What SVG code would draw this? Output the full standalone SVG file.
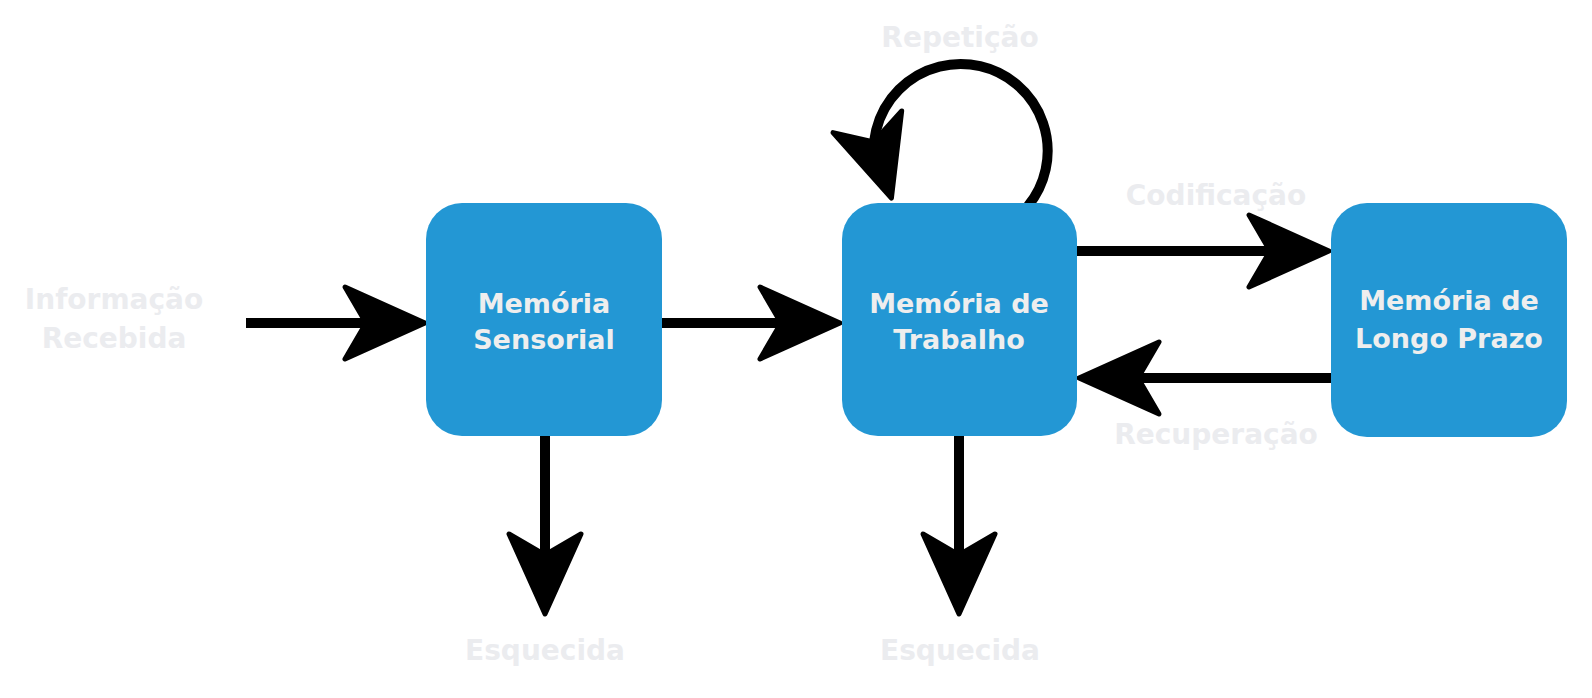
<svg xmlns="http://www.w3.org/2000/svg" width="1592" height="698" viewBox="0 0 1592 698">
<style>
.box{fill:#2397d4}
.nt{font-family:"DejaVu Sans",Lato,sans-serif;font-weight:700;font-size:27px;fill:#eeeeee;text-anchor:middle}
.lb{font-family:"DejaVu Sans",Lato,sans-serif;font-weight:700;font-size:28px;fill:#ebecef;text-anchor:middle}
.ln{stroke:#000;stroke-width:10;fill:none}
.hd{fill:#000;stroke:#000;stroke-width:5;stroke-linejoin:round}
</style>
<defs>
<path id="ah" d="M-2,0 L-82,-36 L-61,0 L-82,36 Z"/>
</defs>
<rect width="1592" height="698" fill="#ffffff"/>
<g id="connectors">
<line class="ln" x1="246" y1="323" x2="380" y2="323"/>
<use href="#ah" class="hd" transform="translate(427,323)"/>
<line class="ln" x1="660" y1="323" x2="795" y2="323"/>
<use href="#ah" class="hd" transform="translate(842,323)"/>
<line class="ln" x1="1075" y1="251" x2="1284" y2="251"/>
<use href="#ah" class="hd" transform="translate(1331,251)"/>
<line class="ln" x1="1333" y1="378" x2="1125" y2="378"/>
<use href="#ah" class="hd" transform="translate(1077,378) rotate(180)"/>
<line class="ln" x1="545" y1="434" x2="545" y2="570"/>
<use href="#ah" class="hd" transform="translate(545,616) rotate(90)"/>
<line class="ln" x1="959" y1="434" x2="959" y2="570"/>
<use href="#ah" class="hd" transform="translate(959,616) rotate(90)"/>
<path class="ln" stroke-width="9" d="M1028,206 A87,87 0 1 0 876,171"/>
<use href="#ah" class="hd" transform="translate(892,200) rotate(72.5)"/>
</g>
<g id="node-sensorial">
<rect class="box" x="426" y="203" width="236" height="233" rx="36"/>
<text class="nt" x="544" y="313">Memória</text>
<text class="nt" x="544" y="349">Sensorial</text>
</g>
<g id="node-trabalho">
<rect class="box" x="842" y="203" width="235" height="233" rx="36"/>
<text class="nt" x="959" y="313">Memória de</text>
<text class="nt" x="959" y="349">Trabalho</text>
</g>
<g id="node-longo">
<rect class="box" x="1331" y="203" width="236" height="234" rx="36"/>
<text class="nt" x="1449" y="310">Memória de</text>
<text class="nt" x="1449" y="348">Longo Prazo</text>
</g>
<g id="labels">
<text class="lb" x="114" y="309">Informação</text>
<text class="lb" x="114" y="348">Recebida</text>
<text class="lb" x="545" y="660">Esquecida</text>
<text class="lb" x="960" y="660">Esquecida</text>
<text class="lb" x="960" y="47">Repetição</text>
<text class="lb" x="1216" y="205">Codificação</text>
<text class="lb" x="1216" y="444">Recuperação</text>
</g>
</svg>
